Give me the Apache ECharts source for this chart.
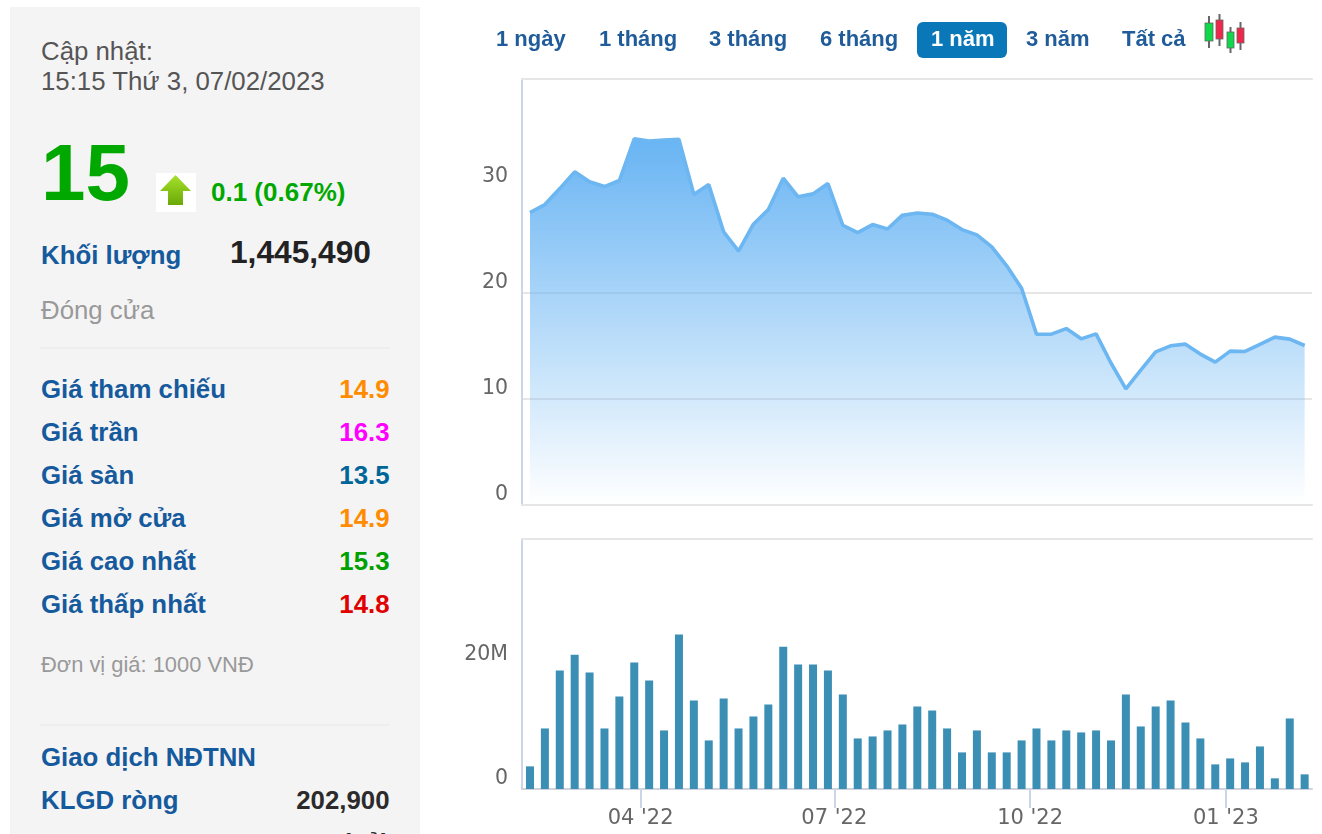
<!DOCTYPE html>
<html lang="vi">
<head>
<meta charset="utf-8">
<title>Biểu đồ giá</title>
<script src="https://cdn.jsdelivr.net/npm/echarts@6/dist/echarts.min.js"></script>
<style>
html,body{margin:0;padding:0;width:1322px;height:834px;overflow:hidden;background:#fff;font-family:"Liberation Sans",Arial,sans-serif}
#panel{position:absolute;left:10px;top:7px;width:410px;height:827px;background:#f5f4f5;overflow:hidden}
.t{position:absolute;white-space:nowrap;line-height:1}
.lab{left:31px;font-weight:bold;font-size:25.8px;color:#155a9c}
.val{right:30.5px;font-weight:bold;font-size:25.8px}
.hr{position:absolute;left:30px;width:350px;height:2px;background:#efeeef}
#tabs span{position:absolute;top:26px;font:bold 22px "Liberation Sans",Arial,sans-serif;color:#1f5c99;line-height:26px;white-space:nowrap}
#active{position:absolute;left:917px;top:22px;width:90px;height:36px;background:#0a78b8;border-radius:6px}
#chart{position:absolute;left:430px;top:0;width:892px;height:834px}
svg{position:absolute}
</style>
</head>
<body>
<div id="panel">
  <div class="t" style="left:31px;top:32px;font-size:25.8px;color:#555">Cập nhật:</div>
  <div class="t" style="left:31px;top:62px;font-size:25.8px;color:#555">15:15 Thứ 3, 07/02/2023</div>
  <div class="t" style="left:31px;top:126px;font-size:80px;font-weight:bold;color:#00a800">15</div>
  <svg style="left:146px;top:166px" width="40" height="39" viewBox="0 0 40 39">
    <defs><linearGradient id="ag" x1="0" y1="0" x2="0" y2="1"><stop offset="0" stop-color="#a6e22a"/><stop offset="1" stop-color="#6aa808"/></linearGradient></defs>
    <rect width="40" height="39" fill="#fff"/>
    <path d="M19.5 2 L35 18 L27 18 L27 32 L12 32 L12 18 L4 18 Z" fill="url(#ag)"/>
  </svg>
  <div class="t" style="left:201px;top:172px;font-size:26px;font-weight:bold;color:#00a800">0.1 (0.67%)</div>
  <div class="t lab" style="top:236px">Khối lượng</div>
  <div class="t" style="left:220px;top:230px;font-size:31.7px;font-weight:bold;color:#222">1,445,490</div>
  <div class="t" style="left:31px;top:291px;font-size:25.8px;color:#999">Đóng cửa</div>
  <div class="hr" style="top:340px"></div>
  <div class="t lab" style="top:370px">Giá tham chiếu</div><div class="t val" style="top:370px;color:#ff8c00">14.9</div>
  <div class="t lab" style="top:413px">Giá trần</div><div class="t val" style="top:413px;color:#ff00ff">16.3</div>
  <div class="t lab" style="top:456px">Giá sàn</div><div class="t val" style="top:456px;color:#006699">13.5</div>
  <div class="t lab" style="top:499px">Giá mở cửa</div><div class="t val" style="top:499px;color:#ff8c00">14.9</div>
  <div class="t lab" style="top:542px">Giá cao nhất</div><div class="t val" style="top:542px;color:#00a000">15.3</div>
  <div class="t lab" style="top:585px">Giá thấp nhất</div><div class="t val" style="top:585px;color:#e00000">14.8</div>
  <div class="t" style="left:31px;top:647px;font-size:21.9px;color:#999">Đơn vị giá: 1000 VNĐ</div>
  <div class="hr" style="top:717px"></div>
  <div class="t lab" style="top:738px">Giao dịch NĐTNN</div>
  <div class="t lab" style="top:781px">KLGD ròng</div><div class="t val" style="top:781px;color:#2b2b2b">202,900</div>
  <div class="t lab" style="top:824px">GTM</div><div class="t val" style="top:824px;color:#2b2b2b">3.04 (Tỷ)</div>
</div>
<div id="chart"></div>
<div id="active"></div>
<div id="tabs">
  <span style="left:496px">1 ngày</span>
  <span style="left:599px">1 tháng</span>
  <span style="left:709px">3 tháng</span>
  <span style="left:820px">6 tháng</span>
  <span style="left:931px;color:#fff">1 năm</span>
  <span style="left:1026px">3 năm</span>
  <span style="left:1122px">Tất cả</span>
</div>
<svg style="left:1200px;top:12px" width="50" height="44" viewBox="0 0 50 44">
  <g stroke="#666" stroke-width="2">
    <line x1="9" y1="4" x2="9" y2="36"/><line x1="19.5" y1="2" x2="19.5" y2="34"/><line x1="30.5" y1="15" x2="30.5" y2="41"/><line x1="40.5" y1="10" x2="40.5" y2="38"/>
  </g>
  <g stroke="#666" stroke-width="0.8">
    <rect x="5" y="11" width="8" height="18" fill="#10d84a"/>
    <rect x="16" y="8" width="7" height="19" fill="#f0264a"/>
    <rect x="27" y="20" width="7" height="16" fill="#10d84a"/>
    <rect x="37" y="16" width="7" height="15" fill="#f0264a"/>
  </g>
</svg>
<script>
var dates = ['2022-02-08','2022-02-15','2022-02-22','2022-03-01','2022-03-08','2022-03-15','2022-03-22','2022-03-29','2022-04-05','2022-04-12','2022-04-19','2022-04-26','2022-05-03','2022-05-10','2022-05-17','2022-05-24','2022-05-31','2022-06-07','2022-06-14','2022-06-21','2022-06-28','2022-07-05','2022-07-12','2022-07-19','2022-07-26','2022-08-02','2022-08-09','2022-08-16','2022-08-23','2022-08-30','2022-09-06','2022-09-13','2022-09-20','2022-09-27','2022-10-04','2022-10-11','2022-10-18','2022-10-25','2022-11-01','2022-11-08','2022-11-15','2022-11-22','2022-11-29','2022-12-06','2022-12-13','2022-12-20','2022-12-27','2023-01-03','2023-01-10','2023-01-17','2023-01-24','2023-01-31','2023-02-07'];
var prices = [27.6,28.35,29.86,31.44,30.5,30.05,30.62,34.55,34.35,34.45,34.5,29.3,30.24,25.77,23.95,26.5,27.88,30.84,29.08,29.36,30.33,26.4,25.7,26.46,26.05,27.35,27.56,27.44,26.88,25.99,25.49,24.36,22.57,20.46,16.12,16.12,16.65,15.68,16.15,13.4,10.96,12.73,14.45,15.02,15.18,14.24,13.48,14.52,14.49,15.15,15.84,15.65,15.05];
var volumes = [3.65,9.76,19.1,21.66,18.77,9.76,14.9,20.4,17.5,9.44,24.9,14.26,7.83,14.58,9.76,11.69,13.62,22.95,20.05,20.05,19.09,15.23,8.15,8.47,9.44,10.4,13.3,12.65,9.76,5.9,9.44,5.9,5.9,7.83,9.76,7.83,9.44,9.12,9.44,7.83,15.23,10.08,13.3,14.26,10.72,8.15,3.97,4.93,4.29,6.86,1.72,11.37,2.36];
var priceTicks = [0,10,20,30];
var volumeTicks = [0,20];
var monthTicks = ['2022-04-01','2022-07-01','2022-10-01','2023-01-01'];
var monthLabels = ["04 '22","07 '22","10 '22","01 '23"];

var toTime = function (s) { return Date.UTC(+s.slice(0,4), +s.slice(5,7)-1, +s.slice(8,10)); };
var tickTimes = monthTicks.map(toTime);
var axisMin = Date.UTC(2022, 1, 4, 6);
var axisMax = Date.UTC(2023, 1, 10, 11);
var pricePts = dates.map(function (d, i) { return [toTime(d), prices[i]]; });
var volPts = dates.map(function (d, i) { return [toTime(d), volumes[i]]; });

var labelFont = { fontFamily: 'DejaVu Sans', fontSize: 20.5, color: '#666' };
var frame = '#e6e6e6', spine = '#ccd6eb';
function topEdge(gridIndex) {
  return { type: 'value', gridIndex: gridIndex, position: 'top', min: axisMin, max: axisMax,
    axisLine: { show: true, onZero: false, lineStyle: { color: frame, width: 2 } },
    axisTick: { show: false }, axisLabel: { show: false }, splitLine: { show: false } };
}
function yAxis(gridIndex, max, interval, ticks, fmt) {
  return { type: 'value', gridIndex: gridIndex, min: 0, max: max, interval: interval,
    axisLine: { show: true, lineStyle: { color: spine, width: 2 } },
    axisTick: { show: false, customValues: ticks },
    splitLine: { show: true, showMaxLine: false, showMinLine: false, customValues: ticks, lineStyle: { color: frame, width: 2 } },
    axisLabel: Object.assign({ customValues: ticks, margin: 14, verticalAlign: 'bottom', lineHeight: 20, formatter: fmt }, labelFont) };
}
var chart = echarts.init(document.getElementById('chart'), null, { renderer: 'canvas' });
chart.setOption({
  animation: false,
  backgroundColor: 'transparent',
  grid: [
    { left: 92, right: 10, top: 79, height: 426 },
    { left: 92, right: 10, top: 539, height: 250 }
  ],
  xAxis: [
    { type: 'value', gridIndex: 0, min: axisMin, max: axisMax,
      axisLine: { show: true, onZero: false, lineStyle: { color: frame, width: 2 } },
      axisTick: { show: false }, axisLabel: { show: false }, splitLine: { show: false } },
    { type: 'value', gridIndex: 1, min: axisMin, max: axisMax,
      axisLine: { show: true, onZero: false, lineStyle: { color: '#d0d3de', width: 2 } },
      axisTick: { show: true, customValues: tickTimes, length: 19, lineStyle: { color: spine, width: 2 } },
      axisLabel: Object.assign({}, labelFont, { show: true, customValues: tickTimes, margin: 19, hideOverlap: false, fontSize: 21,
        formatter: function (v) { return monthLabels[tickTimes.indexOf(+v)] || ''; } }),
      splitLine: { show: false } },
    topEdge(0),
    topEdge(1)
  ],
  yAxis: [
    yAxis(0, 40.2, 10, priceTicks, function (v) { return String(v); }),
    yAxis(1, 40.3, 20, volumeTicks, function (v) { return v === 0 ? '0' : v + 'M'; })
  ],
  series: [
    { name: 'Giá', type: 'line', xAxisIndex: 0, yAxisIndex: 0, data: pricePts, symbol: 'none', smooth: false,
      lineStyle: { color: '#6cb6f1', width: 3.6 },
      areaStyle: { opacity: 1, color: new echarts.graphic.LinearGradient(0, 0, 0, 1, [
        { offset: 0, color: 'rgba(104,180,243,1)' },
        { offset: 1, color: 'rgba(104,180,243,0)' }
      ]) } },
    { name: 'Khối lượng', type: 'bar', xAxisIndex: 1, yAxisIndex: 1, data: volPts, barWidth: 8,
      itemStyle: { color: '#3b8fb5' } }
  ]
});
</script>
</body>
</html>
